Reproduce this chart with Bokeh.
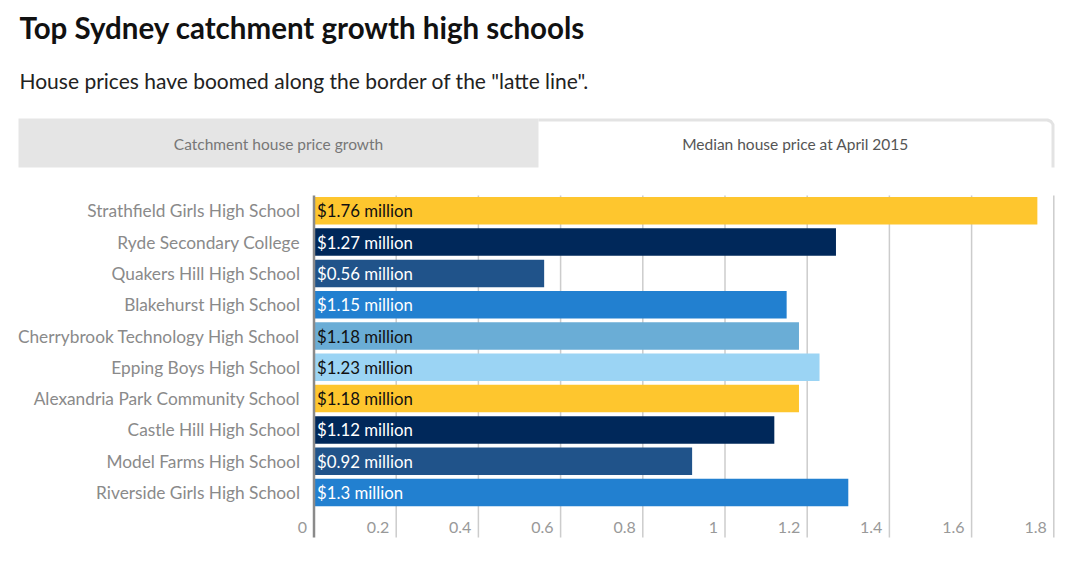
from bokeh.plotting import figure
from bokeh.models import Range1d, ColumnDataSource
from bokeh.core.properties import value
from bokeh.embed import file_html
from bokeh.resources import INLINE

# ---- data ----
schools = ["Strathfield Girls High School", "Ryde Secondary College", "Quakers Hill High School",
           "Blakehurst High School", "Cherrybrook Technology High School", "Epping Boys High School",
           "Alexandria Park Community School", "Castle Hill High School", "Model Farms High School",
           "Riverside Girls High School"]
prices = [1.76, 1.27, 0.56, 1.15, 1.18, 1.23, 1.18, 1.12, 0.92, 1.3]
bar_colors = ["#fec62e", "#00285a", "#20538a", "#2280d0", "#6aadd6", "#9bd4f4",
              "#fec62e", "#00285a", "#20538a", "#2280d0"]
label_colors = ["#111111", "#ffffff", "#ffffff", "#ffffff", "#111111", "#111111",
                "#111111", "#ffffff", "#ffffff", "#ffffff"]
ticks = [0, 0.2, 0.4, 0.6, 0.8, 1, 1.2, 1.4, 1.6, 1.8]
tick_labels = ["0", "0.2", "0.4", "0.6", "0.8", "1", "1.2", "1.4", "1.6", "1.8"]
title_text = "Top Sydney catchment growth high schools"
subtitle_text = 'House prices have boomed along the border of the "latte line".'
tab_texts = ["Catchment house price growth", "Median house price at April 2015"]

FONT = "Lato"
W, H = 1080, 566
X0, XS = 313.5, 411.0      # px of value 0, px per unit
Y0, YS = 210.3, 31.3       # px of row 0 centre, px per row

p = figure(width=W, height=H, output_backend="svg", toolbar_location=None,
           x_range=Range1d(-X0 / XS, (W - X0) / XS),
           y_range=Range1d((H - Y0) / YS, -Y0 / YS),
           min_border=0, min_border_left=0, min_border_right=0,
           min_border_top=0, min_border_bottom=0)
p.axis.visible = False
p.grid.visible = False
p.outline_line_color = None
p.background_fill_color = "white"
p.border_fill_color = "white"
p.extra_x_ranges["px"] = Range1d(0, W)
p.extra_y_ranges["px"] = Range1d(H, 0)

rows = list(range(len(schools)))

# gridlines and axis line
top_px, bot_px = 195, 537
p.segment(x0=ticks[1:], x1=ticks[1:], y0=[top_px] * (len(ticks) - 1), y1=[bot_px] * (len(ticks) - 1),
          y_range_name="px", line_color="#cccccc", line_width=1.5)

# bars
src = ColumnDataSource(dict(y=rows, right=prices, color=bar_colors, lc=label_colors,
                            school=schools,
                            label=[f"${v:g} million" for v in prices]))
p.hbar(y="y", left=0, right="right", height=0.88, fill_color="color", line_color=None, source=src)

p.segment(x0=[0], x1=[0], y0=[top_px], y1=[bot_px], y_range_name="px",
          line_color="#8a8a8a", line_width=2.5)

# school labels
p.text(x=0, y="y", text="school", source=src, x_offset=-14, text_align="right",
       text_baseline="middle", text_font=value(FONT), text_font_size="17.3px", text_color="#8a8a8a")
# value labels
p.text(x=0, y="y", text="label", source=src, x_offset=3, text_align="left",
       text_baseline="middle", text_font=value(FONT), text_font_size="16.8px", text_color="lc")

# tick labels
p.text(x=ticks, y=[527] * len(ticks), text=tick_labels, y_range_name="px", x_offset=-7,
       text_align="right", text_baseline="middle", text_font=value(FONT),
       text_font_size="16px", text_color="#999999")

# title & subtitle
p.text(x=[19], y=[27], text=[title_text], x_range_name="px", y_range_name="px",
       text_align="left", text_baseline="middle", text_font=value(FONT),
       text_font_size="29.5px", text_font_style="bold", text_color="#111111")
p.text(x=[19], y=[80], text=[subtitle_text], x_range_name="px", y_range_name="px",
       text_align="left", text_baseline="middle", text_font=value(FONT),
       text_font_size="21px", text_color="#222222")

# tabs
p.quad(left=[18], right=[538], top=[118], bottom=[167], x_range_name="px", y_range_name="px",
       fill_color="#e5e5e5", line_color=None)
p.line(x=[538, 1047, 1050.5, 1052.5, 1052.5], y=[119.5, 119.5, 121, 124, 167],
       x_range_name="px", y_range_name="px", line_color="#e3e3e3", line_width=3)
p.text(x=[278, 795], y=[143, 143], text=tab_texts, x_range_name="px", y_range_name="px",
       text_align="center", text_baseline="middle", text_font=value(FONT),
       text_font_size="15.5px", text_color=["#777777", "#555555"])

open("out.html", "w").write(file_html(p, INLINE))
